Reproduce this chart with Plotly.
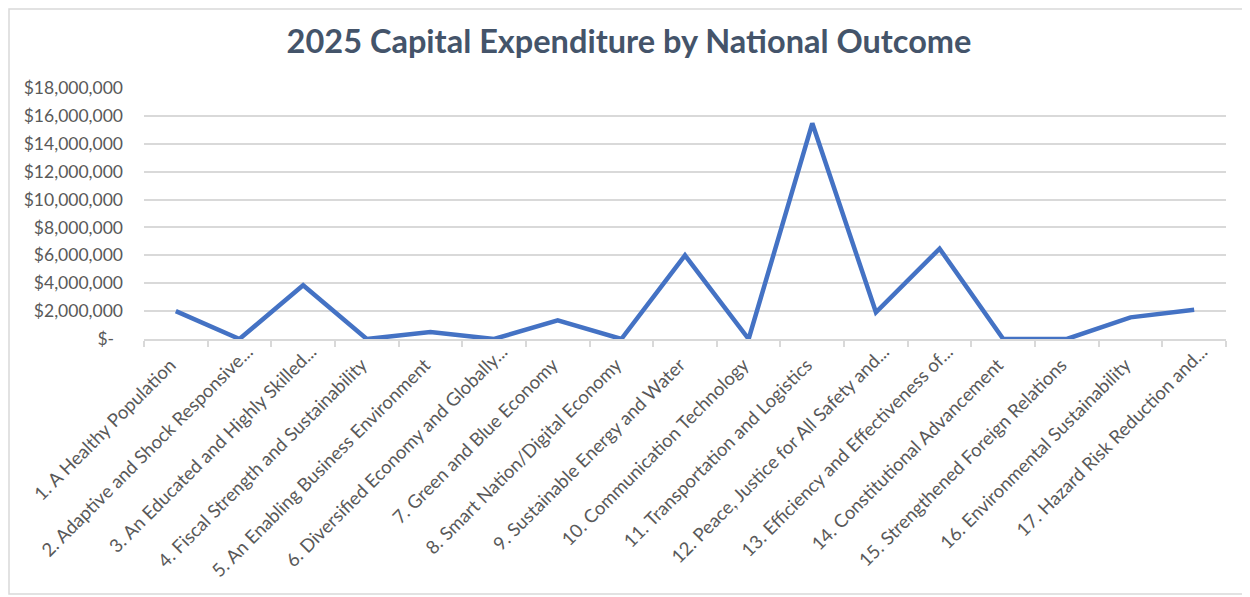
import plotly.graph_objects as go

categories = [
    "1. A Healthy Population",
    "2. Adaptive and Shock Responsive...",
    "3. An Educated and Highly Skilled...",
    "4. Fiscal Strength and Sustainability",
    "5. An Enabling Business Environment",
    "6. Diversified Economy and Globally...",
    "7. Green and Blue Economy",
    "8. Smart Nation/Digital Economy",
    "9. Sustainable Energy and Water",
    "10. Communication Technology",
    "11. Transportation and Logistics",
    "12. Peace, Justice for All Safety and...",
    "13. Efficiency and Effectiveness of...",
    "14. Constitutional Advancement",
    "15. Strengthened Foreign Relations",
    "16. Environmental Sustainability",
    "17. Hazard Risk Reduction and...",
]
expenditure = [
    2000000, 0, 3850000, 0, 500000, 0, 1340000, 0, 6000000, 0,
    15470000, 1920000, 6480000, 0, 0, 1550000, 2100000,
]
y_tick_values = [0, 2000000, 4000000, 6000000, 8000000, 10000000,
                 12000000, 14000000, 16000000, 18000000]
y_tick_labels = ["$-", "$2,000,000", "$4,000,000", "$6,000,000", "$8,000,000",
                 "$10,000,000", "$12,000,000", "$14,000,000", "$16,000,000",
                 "$18,000,000"]
title_text = "2025 Capital Expenditure by National Outcome"

FONT = "Lato, 'Open Sans', sans-serif"
TXT = "#595959"
GRID = "#D9D9D9"
NBSP = "\u00a0"

# accounting-style padding for the zero label
y_tick_text = [t + NBSP * 2 if t == "$-" else t for t in y_tick_labels]
# truncated labels overhang their anchor in the original; pad the others
x_tick_text = [c if c.endswith("...") else c + NBSP * 4 for c in categories]

# page body has an 8px margin; figure is sized to fit the 1250x597 window
W, H = 1242, 589
L, R, T, B = 136, 24, 80, 258
PW, PH = W - L - R, H - T - B

fig = go.Figure()
fig.add_trace(go.Scatter(
    x=categories, y=expenditure, mode="lines",
    line=dict(color="#4472C4", width=4.5, shape="linear"),
    hoverinfo="x+y", showlegend=False,
))

fig.update_layout(
    width=W, height=H,
    margin=dict(l=L, r=R, t=T, b=B, autoexpand=False),
    paper_bgcolor="white", plot_bgcolor="white",
    title=dict(text="<b>" + title_text + "</b>", x=0.5, xanchor="center",
               y=1 - 34 / H, yanchor="middle", yref="container",
               font=dict(family=FONT, size=32.5, color="#44546A")),
    font=dict(family=FONT, color=TXT),
    xaxis=dict(
        type="category", range=[-0.5, len(categories) - 0.5],
        tickmode="array", tickvals=categories, ticktext=x_tick_text,
        tickangle=-45, tickfont=dict(family=FONT, size=18.5, color=TXT),
        showgrid=False, showline=True, linecolor=GRID, linewidth=1.5,
        ticks="outside", tickson="boundaries", ticklen=6, tickcolor=GRID,
        tickwidth=1.5, zeroline=False, fixedrange=True, automargin=False,
        ticklabelstandoff=-7, ticklabelshift=8,
    ),
    yaxis=dict(
        range=[0, 18000000], tickvals=y_tick_values, ticktext=y_tick_text,
        tickfont=dict(family=FONT, size=17.5, color=TXT),
        showgrid=True, gridcolor=GRID, gridwidth=1.5,
        zeroline=False, showline=False, ticks="", ticklabelstandoff=20,
        fixedrange=True, automargin=False,
    ),
    shapes=[dict(type="rect", xref="paper", yref="paper",
                 x0=(1 - L) / PW, x1=(1237 - L) / PW,
                 y0=(T + PH - 586) / PH, y1=(T + PH - 1) / PH,
                 line=dict(color="#D9D9D9", width=1.5), fillcolor="rgba(0,0,0,0)",
                 layer="below")],
)

fig.write_html("out.html")
